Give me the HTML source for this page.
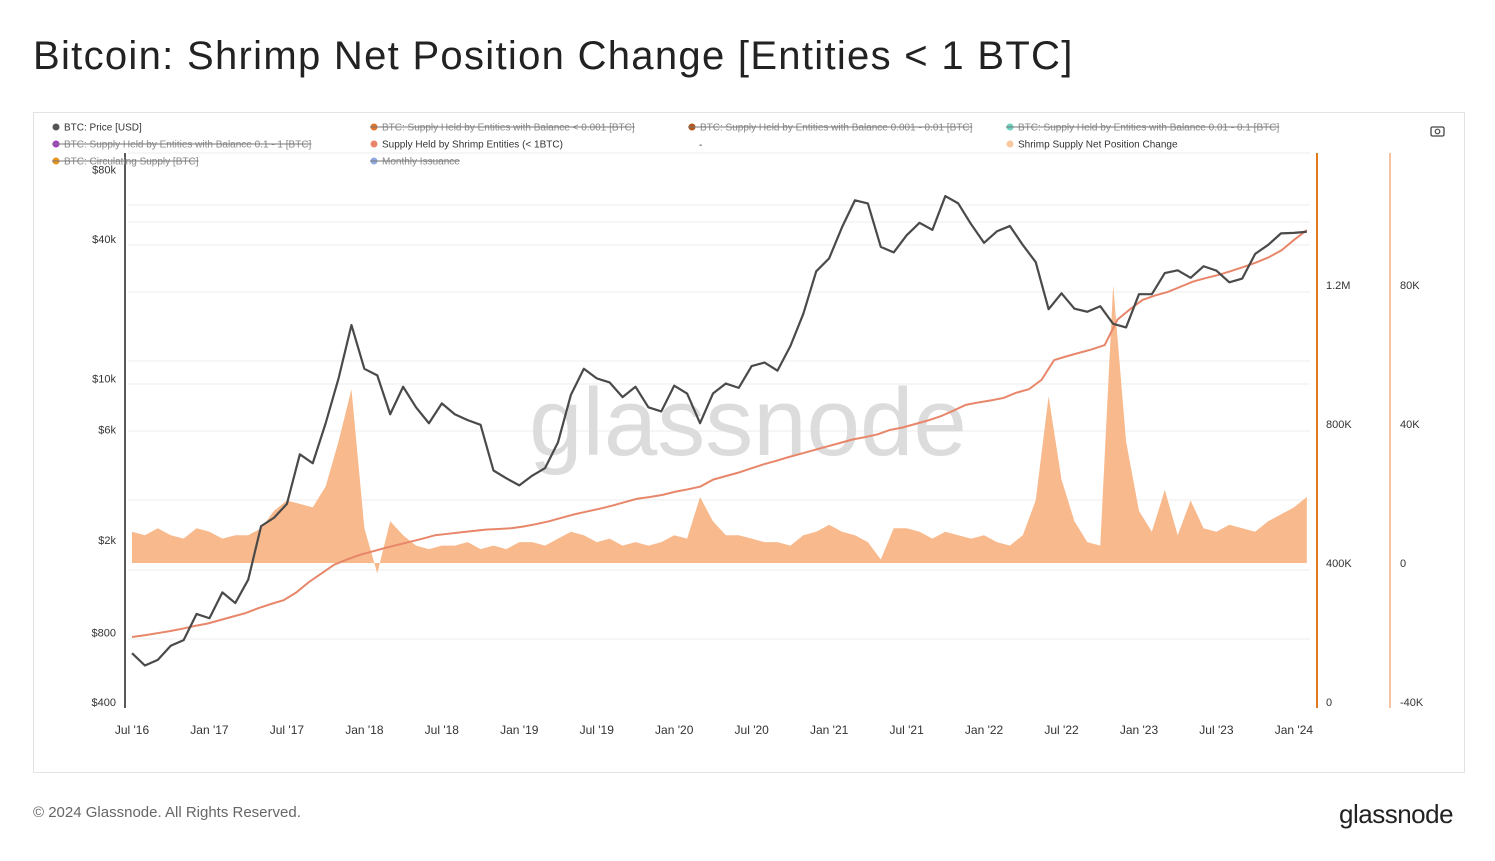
<!DOCTYPE html>
<html><head><meta charset="utf-8"><style>
body{margin:0;background:#fff;font-family:"Liberation Sans",sans-serif;}
#wrap{position:relative;width:1495px;height:861px;overflow:hidden;background:#fff;}
.t{position:absolute;white-space:nowrap;}
</style></head><body>
<div id="wrap">
<div class="t" style="left:33px;top:34px;font-size:40px;letter-spacing:1.3px;color:#222;">Bitcoin: Shrimp Net Position Change [Entities &lt; 1 BTC]</div>
<div style="position:absolute;left:33px;top:112px;width:1430px;height:659px;border:1px solid #e3e3e3;"></div>
<svg id="chart" width="1495" height="861" style="position:absolute;left:0;top:0;" font-family="Liberation Sans, sans-serif"></svg>
<div class="t" style="left:33px;top:804px;font-size:15px;color:#666;">© 2024 Glassnode. All Rights Reserved.</div>
<div class="t" style="left:1339px;top:799px;font-size:26px;color:#222;letter-spacing:-0.5px;">glassnode</div>
</div>
<script>
const priceMonths = [650,575,608,700,740,960,
920,1190,1070,1350,2300,2500,2870,4700,4300,6400,10000,17000,
11000,10300,7000,9200,7500,6400,7800,7000,6600,6300,4000,3700,
3450,3800,4100,5300,8500,11000,10000,9600,8300,9200,7500,7200,
9300,8600,6400,8600,9500,9100,11300,11700,10800,13800,19000,29000,
33000,45000,58800,57000,37000,35000,41500,47000,43800,61300,57000,46300,
38500,43200,45500,37700,31800,19900,23300,20000,19400,20500,17200,16600,
23100,23100,28500,29300,27200,30500,29200,26000,27000,34500,37700,42300,
42500,43000];
const supplyK = [187,192,198,204,211,219,226,236,246,256,270,282,293,315,345,370,395,410,423,
433,443,452,461,470,480,484,488,492,496,498,500,505,512,520,530,540,548,556,565,575,585,590,596,
605,612,620,640,650,660,672,684,694,705,715,725,735,745,755,762,770,783,790,800,810,822,838,855,
862,868,875,890,900,927,984,995,1005,1015,1027,1100,1130,1157,1170,1180,1195,1210,1220,1229,1240,1252,1265,1280,1300,1330,1358];
const netK = [9,8,10,8,7,10,9,7,8,8,10,15,18,17,16,22,35,50,10,-3,12,8,5,4,5,5,6,4,5,4,
6,6,5,7,9,8,6,7,5,6,5,6,8,7,19,12,8,8,7,6,6,5,8,9,
11,9,8,6,1,10,10,9,7,9,8,7,
8,6,5,8,18,48,24,12,6,5,80,35,
15,9,21,8,18,10,9,11,10,9,12,14,16,19];
const xTicks = ["Jul '16","Jan '17","Jul '17","Jan '18","Jul '18","Jan '19","Jul '19","Jan '20","Jul '20","Jan '21","Jul '21","Jan '22","Jul '22","Jan '23","Jul '23","Jan '24"];
const priceTicks = [80000,40000,10000,6000,2000,800,400];
const priceTickLabels = ["$80k","$40k","$10k","$6k","$2k","$800","$400"];
const supplyTicks = [0,400,800,1200];
const supplyTickLabels = ["0","400K","800K","1.2M"];
const netTicks = [-40,0,40,80];
const netTickLabels = ["-40K","0","40K","80K"];

const svg=document.getElementById('chart');
const NS='http://www.w3.org/2000/svg';
function mk(tag,attrs,parent){const e=document.createElementNS(NS,tag);for(const k in attrs)e.setAttribute(k,attrs[k]);(parent||svg).appendChild(e);return e;}
const xM=m=>132+m*12.91;
const yP=p=>702-231.5*Math.log10(p/400);
const yS=s=>702-s*139/400;
const yN=n=>563-n*139/40;

[153,205,222,245,292,361,384,431,500,570,639].forEach(y=>{
 const g=mk('line',{x1:128,x2:1310,y1:y,y2:y,stroke:'#ececec','stroke-width':1});
 
 
});
const wm=mk('text',{x:748,y:455,'font-size':96,fill:'#dcdcdc','text-anchor':'middle'});
wm.textContent='glassnode';



let d='M'+xM(0)+','+yN(0);
netK.forEach((v,i)=>{d+=' L'+xM(i)+','+yN(v);});
d+=' L'+xM(netK.length-1)+','+yN(0)+' Z';
const area=mk('path',{d:d,fill:'#f8b98c',stroke:'none'});



const sl=mk('path',{d:supplyK.map((v,i)=>(i?'L':'M')+xM(i*(91/(supplyK.length-1)))+','+yS(v)).join(' '),fill:'none',stroke:'#e8866a','stroke-width':2});



const pl=mk('path',{d:priceMonths.map((v,i)=>(i?'L':'M')+xM(i)+','+yP(v)).join(' '),fill:'none',stroke:'#4a4a4a','stroke-width':2.2,'stroke-linejoin':'round'});



const la=mk('line',{x1:125,x2:125,y1:153,y2:708,stroke:'#222','stroke-width':1.5});


const ra=mk('line',{x1:1317,x2:1317,y1:153,y2:708,stroke:'#e07b1c','stroke-width':2});


const na=mk('line',{x1:1390,x2:1390,y1:153,y2:708,stroke:'#f6c4a2','stroke-width':2});



priceTicks.forEach((p,i)=>{const t=mk('text',{x:116,y:yP(p)+4,'font-size':11,fill:'#333','text-anchor':'end'});t.textContent=priceTickLabels[i];
 
 });
supplyTicks.forEach((s,i)=>{const t=mk('text',{x:1326,y:yS(s)+4,'font-size':11,fill:'#333'});t.textContent=supplyTickLabels[i];
 
 });
netTicks.forEach((n,i)=>{const t=mk('text',{x:1400,y:yN(n)+4,'font-size':11,fill:'#333'});t.textContent=netTickLabels[i];
 
 });
xTicks.forEach((l,i)=>{const t=mk('text',{x:xM(i*6),y:734,'font-size':12,fill:'#333','text-anchor':'middle'});t.textContent=l;
 
 });

const legend=[
 [52,127,'#555','BTC: Price [USD]',false],[370,127,'#e0742a','BTC: Supply Held by Entities with Balance < 0.001 [BTC]',true],
 [688,127,'#b5561a','BTC: Supply Held by Entities with Balance 0.001 - 0.01 [BTC]',true],[1006,127,'#6fd0c0','BTC: Supply Held by Entities with Balance 0.01 - 0.1 [BTC]',true],
 [52,144,'#a040c0','BTC: Supply Held by Entities with Balance 0.1 - 1 [BTC]',true],[370,144,'#e8866a','Supply Held by Shrimp Entities (< 1BTC)',false],
 [1006,144,'#f8c9a0','Shrimp Supply Net Position Change',false],
 [52,161,'#e8951c','BTC: Circulating Supply [BTC]',true],[370,161,'#90a8e0','Monthly Issuance',true]];
legend.forEach(L=>{
 const g=mk('g',{});
 
 
 mk('circle',{cx:L[0]+4,cy:L[1],r:3.5,fill:L[2]},g);
 const t=mk('text',{x:L[0]+12,y:L[1]+3.5,'font-size':10,fill:L[4]?'#888':'#333'},g);t.textContent=L[3];
 if(L[4]){const w=t.getComputedTextLength?t.getComputedTextLength():L[3].length*4.8;mk('line',{x1:L[0],x2:L[0]+12+w,y1:L[1],y2:L[1],stroke:'#777','stroke-width':1},g);}
});
const dash=mk('text',{x:699,y:148,'font-size':10,fill:'#333'});dash.textContent='-';


const cam=mk('g',{});


mk('rect',{x:1431,y:127,width:13,height:9,rx:1.5,fill:'none',stroke:'#444','stroke-width':1.3},cam);
mk('circle',{cx:1437.5,cy:131.5,r:2.3,fill:'none',stroke:'#444','stroke-width':1.2},cam);
</script>
</body></html>
